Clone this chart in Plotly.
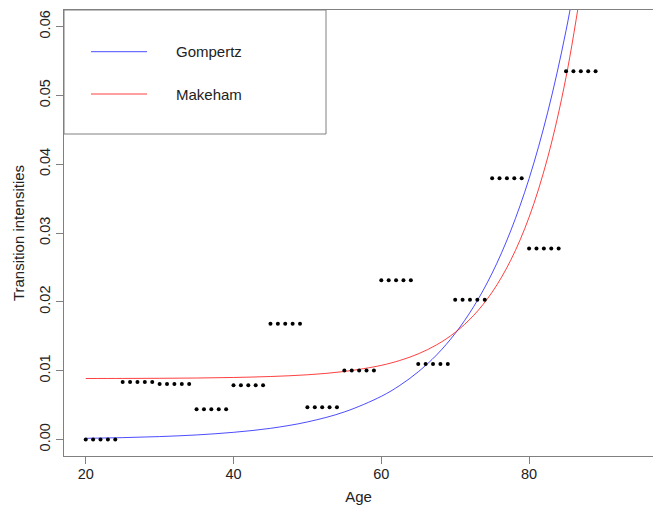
import plotly.graph_objects as go

# ---- data ----
group_start_ages = [20, 25, 30, 35, 40, 45, 50, 55, 60, 65, 70, 75, 80, 85]
group_rates = [0.0000, 0.00835, 0.00806, 0.00440, 0.00789, 0.01681, 0.00467,
               0.01001, 0.02315, 0.01095, 0.02030, 0.03796, 0.02775, 0.05350]
years_per_group = 5

curve_ages = [20, 25, 30, 35, 40, 45, 50, 55, 60, 62.5, 65, 67.5, 70, 72.5,
              75, 77.5, 80, 82.5, 85, 87.5]
gompertz = [0.000171, 0.000269, 0.000421, 0.00066, 0.00104, 0.00162, 0.00255,
            0.0040, 0.00627, 0.00785, 0.00983, 0.0123, 0.01541, 0.0193,
            0.02417, 0.03028, 0.0379, 0.04746, 0.0594, 0.0744]
makeham = [0.00886, 0.00887, 0.00889, 0.00893, 0.00901, 0.00915, 0.00940,
           0.00988, 0.01077, 0.01148, 0.01244, 0.01376, 0.01556, 0.01803,
           0.02140, 0.02601, 0.03229, 0.04089, 0.05263, 0.06871]

x_ticks = [20, 40, 60, 80]
y_ticks = [0.00, 0.01, 0.02, 0.03, 0.04, 0.05, 0.06]
y_tick_text = ["0.00", "0.01", "0.02", "0.03", "0.04", "0.05", "0.06"]
legend_names = ["Gompertz", "Makeham"]
legend_colors = ["rgba(0,0,255,0.7)", "rgba(255,0,0,0.75)"]

# ---- build figure ----
dot_x = [a + k for a in group_start_ages for k in range(years_per_group)]
dot_y = [r for r in group_rates for _ in range(years_per_group)]

FONT = "Liberation Sans, Arial, sans-serif"
TXT = "#222222"
AX = "#808080"

fig = go.Figure()
fig.add_trace(go.Scatter(x=curve_ages, y=gompertz, mode="lines",
                         line=dict(color=legend_colors[0], width=1, shape="spline"),
                         name=legend_names[0], showlegend=False))
fig.add_trace(go.Scatter(x=curve_ages, y=makeham, mode="lines",
                         line=dict(color=legend_colors[1], width=1, shape="spline"),
                         name=legend_names[1], showlegend=False))
fig.add_trace(go.Scatter(x=dot_x, y=dot_y, mode="markers",
                         marker=dict(color="black", size=4),
                         showlegend=False))

W, H = 653, 510
ml, mr, mt, mb = 64, 0, 10, 54
pw, ph = W - ml - mr, H - mt - mb

def px_x(p):
    return (p - ml) / pw

def px_y(p):
    return 1 - (p - mt) / ph

# legend box
fig.add_shape(type="rect", xref="paper", yref="paper",
              x0=0, x1=px_x(326), y0=px_y(134), y1=1,
              line=dict(color=AX, width=1), fillcolor="rgba(0,0,0,0)")
for i, (nm, col) in enumerate(zip(legend_names, legend_colors)):
    yy = px_y(51.7 + i * 42.3)
    fig.add_shape(type="line", xref="paper", yref="paper",
                  x0=px_x(91), x1=px_x(147), y0=yy, y1=yy,
                  line=dict(color=col, width=1))
    fig.add_annotation(xref="paper", yref="paper", x=px_x(174), y=yy,
                       text=nm, showarrow=False, xanchor="left", yanchor="middle",
                       font=dict(family=FONT, size=15, color=TXT))

fig.update_layout(
    width=W, height=H,
    margin=dict(l=ml, r=mr, t=mt, b=mb, autoexpand=False),
    plot_bgcolor="white", paper_bgcolor="white",
    font=dict(family=FONT, size=15, color=TXT),
)
fig.update_xaxes(range=[17.06, 96.77], tickvals=x_ticks, automargin=False,
                 ticks="outside", ticklen=7, tickcolor=AX,
                 showline=True, linecolor=AX, linewidth=1, mirror=True,
                 showgrid=False, zeroline=False,
                 tickfont=dict(size=14.5, color=TXT), ticklabelstandoff=-2,
                 title=dict(text="Age", standoff=10,
                            font=dict(size=15, color=TXT)))
fig.update_yaxes(range=[-0.0024, 0.0624], tickvals=y_ticks, ticktext=y_tick_text,
                 tickangle=-90, automargin=False,
                 ticks="outside", ticklen=7, tickcolor=AX,
                 showline=True, linecolor=AX, linewidth=1,
                 showgrid=False, zeroline=False,
                 tickfont=dict(size=14.5, color=TXT),
                 title=dict(text="Transition intensities", standoff=8,
                            font=dict(size=15, color=TXT)))

fig.write_html("out.html", config={"displayModeBar": False},
               post_script="document.body.style.margin='0';document.body.style.padding='0';")
